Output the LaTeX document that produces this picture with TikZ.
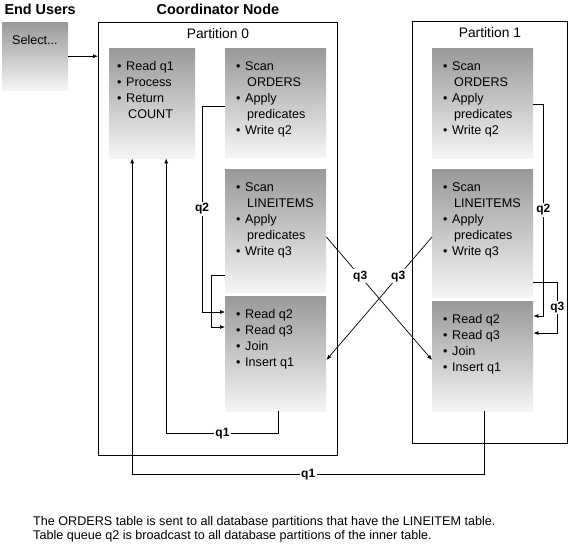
\documentclass[tikz,border=0pt]{standalone}
\usepackage{fontspec}
\setmainfont{Liberation Sans}
\usetikzlibrary{arrows.meta}
\newcommand{\myBullet}[1]{\makebox[9pt][l]{\textbullet}#1}
\newcommand{\myCont}[1]{\hspace*{11pt}#1}
\newcommand{\myBoxText}[4]{%%
  %% Width, height, left indent and lines of a shaded box.
  \parbox[c][#2][t]{#1}{\raggedright\leftskip=#3\relax
    \vspace*{13.5pt}#4}%%
}
\newcommand{\myOrders}[1]{%%
  \myBullet{Scan}\\ \myCont{ORDERS}\\ \myBullet{Apply}\\
  \myCont{predicates}\\ \myBullet{Write #1}}
\newcommand{\myLineitems}[1]{%%
  \myBullet{Scan}\\ \myCont{LINEITEMS}\\ \myBullet{Apply}\\
  \myCont{predicates}\\ \myBullet{Write #1}}
\newcommand{\myJoin}{%%
  \myBullet{Read q2}\\ \myBullet{Read q3}\\ \myBullet{Join}\\
  \myBullet{Insert q1}}

\begin{document}
\begin{tikzpicture}[%%
  x=1pt,y=-1pt,
  arrowStyle/.style={-{Latex[length=5pt,width=4pt]},line width=0.7pt},
  partStyle/.style={draw,line width=0.8pt,rectangle,inner sep=0pt,
    anchor=north west},
  boxStyle/.style={rectangle,inner sep=0pt,anchor=north west,
    top color=black!40,bottom color=black!4,
    font=\fontsize{12.6}{16}\selectfont},
  labelStyle/.style={fill=white,inner sep=1.5pt,
    font=\bfseries\fontsize{12}{14}\selectfont},
  titleStyle/.style={anchor=base,font=\bfseries\fontsize{14.4}{16}\selectfont},
  partLabelStyle/.style={anchor=base,font=\fontsize{13.8}{16}\selectfont}
]
\useasboundingbox (0,0) rectangle (569,545);
%%
%% The two database partitions.
\node[partStyle,minimum width=239pt,minimum height=433pt] (p0) at (98,22) {};
\node[partStyle,minimum width=155pt,minimum height=422pt] (p1) at (412,21) {};
%% Titles.
\node[titleStyle,anchor=base west] (tUsers) at (1,15) {End Users};
\node[titleStyle] (tCoord) at ([yshift=7pt]p0.north) {Coordinator Node};
\node[partLabelStyle] (lp0) at ([yshift=-17pt]p0.north) {Partition 0};
\node[partLabelStyle] (lp1) at ([yshift=-17pt]p1.north) {Partition 1};
%%
%% End user box.
\node[boxStyle] (sel) at (2,22) {\myBoxText{66pt}{68pt}{10pt}{Select...}};
%% Boxes of partition 0.
\node[boxStyle] (cA) at (109,48) {\myBoxText{86pt}{110pt}{8pt}{%%
  \myBullet{Read q1}\\ \myBullet{Process}\\ \myBullet{Return}\\
  \myCont{COUNT}}};
\node[boxStyle] (oA) at (225,48) {\myBoxText{101pt}{109pt}{11pt}{\myOrders{q2}}};
\node[boxStyle] (lA) at (225,169) {\myBoxText{101pt}{123pt}{11pt}{\myLineitems{q3}}};
\node[boxStyle] (rA) at (225,296) {\myBoxText{101pt}{115pt}{11pt}{\myJoin}};
%% Boxes of partition 1.
\node[boxStyle] (oB) at (432,48) {\myBoxText{101pt}{110pt}{11pt}{\myOrders{q2}}};
\node[boxStyle] (lB) at (432,169) {\myBoxText{101pt}{128pt}{11pt}{\myLineitems{q3}}};
\node[boxStyle] (rB) at (432,301) {\myBoxText{101pt}{110pt}{11pt}{\myJoin}};
%%
%% Query from the end user.
\draw[arrowStyle] (sel.east) -- (sel.east -| p0.west);
%% Table queues inside partition 0.
\draw[arrowStyle] ([yshift=-58pt]oA.north west) -- ++(-23,0)
  |- node[labelStyle,pos=0.25] {q2} ([yshift=-16pt]rA.north west);
\draw[arrowStyle] ([yshift=-106pt]lA.north west) -- ++(-14,0)
  |- ([yshift=-31pt]rA.north west);
%% Table queues inside partition 1.
\draw[arrowStyle] ([yshift=-56pt]oB.north east) -- ++(10,0)
  |- node[labelStyle,pos=0.25] {q2} ([yshift=-15pt]rB.north east);
\draw[arrowStyle] ([yshift=-113pt]lB.north east) -- ++(24,0)
  |- node[labelStyle,pos=0.25] {q3} ([yshift=-32pt]rB.north east);
%% q3 between the partitions.
\draw[arrowStyle] ([yshift=-68pt]lA.north east)
  -- node[labelStyle,pos=0.32] {q3} ([yshift=-59pt]rB.north west);
\draw[arrowStyle] ([yshift=-68pt]lB.north west)
  -- node[labelStyle,pos=0.32] {q3} ([yshift=-64pt]rA.north east);
%% q1 back to the coordinator.
\draw[arrowStyle] ([xshift=3pt]rA.south) -- ++(0,22)
  -| node[labelStyle,pos=0.25] {q1} ([xshift=14pt]cA.south);
\draw[arrowStyle] ([xshift=1.5pt]rB.south) -- ++(0,63)
  -| node[labelStyle,pos=0.25] {q1} ([xshift=-20pt]cA.south);
%%
%% Note below the picture.
\node[anchor=north west,inner sep=0pt,align=left,
  font=\fontsize{12.6}{14}\selectfont] (note) at (33,516)
  {The ORDERS table is sent to all database partitions that have the LINEITEM table.\\
   Table queue q2 is broadcast to all database partitions of the inner table.};
\end{tikzpicture}
\end{document}
